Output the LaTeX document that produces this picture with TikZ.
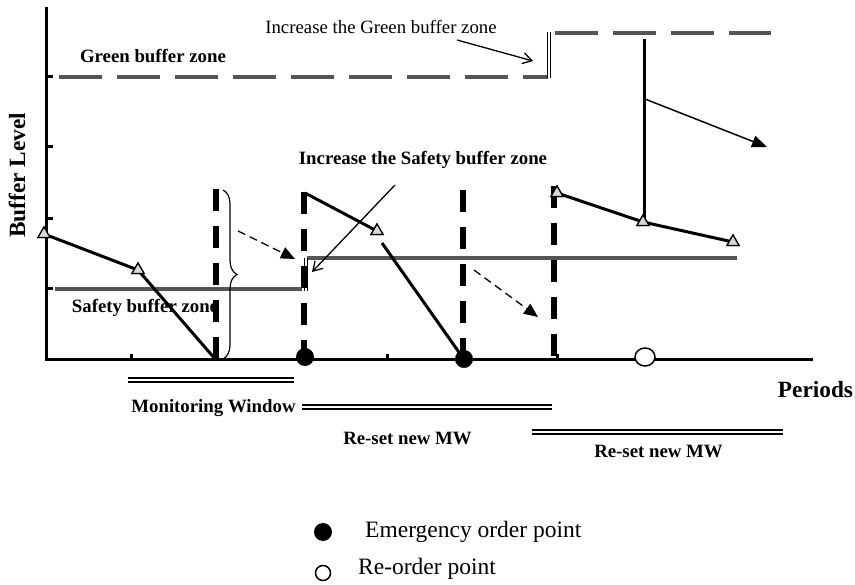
\documentclass[tikz,border=0pt]{standalone}
\usepackage{fontspec}
\setmainfont{Liberation Serif}
\usetikzlibrary{arrows.meta,shapes.geometric,decorations.pathreplacing}
\definecolor{zonegray}{RGB}{85,85,85}
\definecolor{trifill}{RGB}{215,215,215}
\tikzset{
  axisline/.style={line width=3pt},
  zone/.style={draw=zonegray,line width=4pt},
  greendash/.style={zone,dash pattern=on 43pt off 15pt},
  vdash/.style={line width=6pt,dash pattern=on 22pt off 15pt},
  level/.style={line width=3pt},
  tri/.style={regular polygon,regular polygon sides=3,draw,line width=1.2pt,fill=trifill,inner sep=0pt,minimum size=14pt},
  lbl/.style={inner sep=0pt,font=\fontsize{18.8}{22}\selectfont\bfseries,anchor=base},
  lblr/.style={inner sep=0pt,font=\fontsize{18.8}{22}\selectfont,anchor=base},
  biglbl/.style={inner sep=0pt,font=\fontsize{23.3}{27}\selectfont\bfseries,anchor=base},
  leglbl/.style={inner sep=0pt,font=\fontsize{23.5}{27}\selectfont,anchor=base west},
  dbl/.style={double,line width=1.8pt,double distance=2.6pt},
  stepdbl/.style={double,line width=1.3pt,double distance=2pt},
  openarrow/.style={line width=1.3pt,-{Straight Barb[length=9pt,width=11pt,line width=1.3pt]}},
  dasharrow/.style={line width=1.3pt,dash pattern=on 8pt off 5pt,-{Triangle[length=14pt,width=12pt]}},
  solidarrow/.style={line width=1.5pt,-{Triangle[length=15pt,width=12pt]}},
  emerg/.style={circle,fill=black,inner sep=0pt,minimum size=18pt},
  reord/.style={ellipse,draw,line width=1.5pt,fill=white,inner sep=0pt,minimum width=20pt,minimum height=18pt},
}
\begin{document}
\begin{tikzpicture}[x=1pt,y=-1pt]
\useasboundingbox (0,0) rectangle (855,585);

% coordinates
\coordinate (yaxtop) at (46,7);
\coordinate (origin) at (46,360);
\coordinate (xaxend) at (813,360);

% buffer zones
\draw[greendash] (59,77) coordinate (g0) -- (548,77) coordinate (g1);
\draw[greendash] (555,33) coordinate (g2) -- (771,33) coordinate (g3);
\draw[stepdbl] (549,78) coordinate (gs0) -- (549,32) coordinate (gs1);
\draw[zone] (55,289) coordinate (s0) -- (302,289) coordinate (s1);
\draw[zone] (307,258) coordinate (s2) -- (737,258) coordinate (s3);
\draw[stepdbl] (306,291) coordinate (ss0) -- (306,258) coordinate (ss1);

% texts
\node[lbl] (tgreen) at (153,63) {Green buffer zone};
\node[lblr] (tincg) at (381,34) {Increase the Green buffer zone};
\node[lbl] (tincs) at (423,165) {Increase the Safety buffer zone};
\node[lbl] (tsafe) at (145,313) {Safety buffer zone};
\node[lbl] (tmw) at (213.5,413) {Monitoring Window};
\node[lbl] (trs1) at (407.5,445) {Re-set new MW};
\node[lbl] (trs2) at (658.5,457) {Re-set new MW};
\node[biglbl] (tper) at (815.5,398) {Periods};
\node[biglbl,rotate=90] (tbl) at (25,175.5) {Buffer Level};

% axes
\draw[axisline] (yaxtop) -- (origin);
\draw[axisline] (44.5,360) -- (xaxend);
\foreach \yy in {77,147,219,289} \draw[axisline] (46,\yy) -- (53,\yy);
\foreach \xx in {131,387,557} \draw[axisline] (\xx,360) -- (\xx,354);

% vertical dashed lines
\draw[vdash] (216,189) coordinate (v1t) -- (216,360) coordinate (v1b);
\draw[vdash] (304,192) coordinate (v2t) -- (304,360) coordinate (v2b);
\draw[vdash] (463,190) coordinate (v3t) -- (463,360) coordinate (v3b);
\draw[vdash] (554,186) coordinate (v4t) -- (554,360) coordinate (v4b);

% brace
\draw[line width=1.2pt,decorate,decoration={brace,amplitude=14pt}] (223,190) coordinate (br0) -- (223,359) coordinate (br1);

% level polylines
\node[tri] (a1) at (44,234) {};
\node[tri] (a2) at (138,270) {};
\coordinate (a3) at (216,360);
\draw[level] (a1.center) -- (a2.center) -- (a3);

\coordinate (b0) at (305,193);
\node[tri] (b1) at (377,231) {};
\coordinate (b2) at (382,243);
\coordinate (b3) at (463,358);
\draw[level] (b0) -- (b1.center);
\draw[level] (b2) -- (b3);

\node[tri] (c1) at (557,193) {};
\node[tri] (c2) at (643,222) {};
\node[tri] (c3) at (733,242) {};
\coordinate (ctop) at (644,39);
\draw[level] (c1.center) -- (c2.center) -- (c3.center);
\draw[level] (ctop) -- (644,219);
\node[tri] at (c1) {};
\node[tri] at (c2) {};
\node[tri] at (c3) {};
\node[tri] at (a1) {};
\node[tri] at (a2) {};
\node[tri] at (b1) {};

% arrows
\coordinate (ag0) at (457,40);
\coordinate (ag1) at (533,61);
\draw[openarrow] (ag0) -- (ag1);
\coordinate (as0) at (395,185);
\coordinate (as1) at (312,272);
\draw[openarrow] (as0) -- (as1);
\coordinate (ad0) at (238,231);
\coordinate (ad1) at (295,259);
\draw[dasharrow] (ad0) -- (ad1);
\coordinate (ae0) at (474,270);
\coordinate (ae1) at (538,317);
\draw[dasharrow] (ae0) -- (ae1);
\coordinate (ar0) at (645,99);
\coordinate (ar1) at (767,147);
\draw[solidarrow] (ar0) -- (ar1);

% order points
\node[emerg] (e1) at (305,357) {};
\node[emerg] (e2) at (464,359) {};
\node[reord] (r1) at (645,357) {};

% windows
\draw[dbl] (128,380) coordinate (w1a) -- (294,380) coordinate (w1b);
\draw[dbl] (302,407) coordinate (w2a) -- (552,407) coordinate (w2b);
\draw[dbl] (532,432) coordinate (w3a) -- (783,432) coordinate (w3b);

% legend
\node[emerg] (le) at (323,532) {};
\node[reord,minimum width=15pt,minimum height=15pt] (lr) at (323,573) {};
\node[leglbl] (lte) at (365,537) {Emergency order point};
\node[leglbl] (ltr) at (358,574) {Re-order point};
\end{tikzpicture}
\end{document}
